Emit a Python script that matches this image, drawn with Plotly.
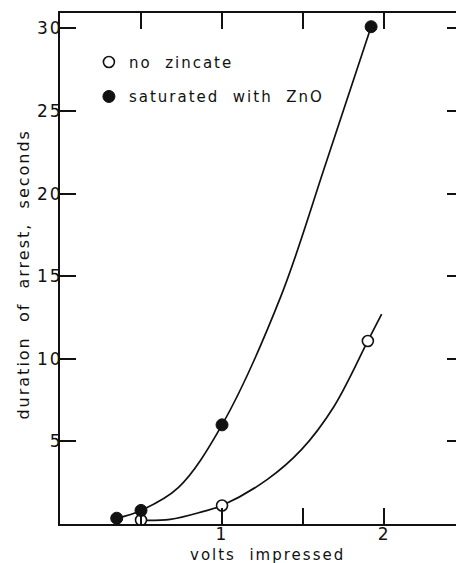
import plotly.graph_objects as go

# Measured points
no_zincate_v = [0.50, 1.00, 1.90]
no_zincate_s = [0.24, 1.12, 11.08]
zno_v = [0.35, 0.50, 1.00, 1.92]
zno_s = [0.35, 0.82, 6.0, 30.1]

# Hand-fitted curves through each set of points
no_zincate_curve_v = [0.50, 0.68, 0.88, 1.00, 1.28, 1.49, 1.69, 1.90, 1.985]
no_zincate_curve_s = [0.22, 0.28, 0.75, 1.12, 2.7, 4.5, 7.1, 11.08, 12.7]
zno_curve_v = [0.35, 0.50, 0.73, 1.00, 1.36, 1.64, 1.92]
zno_curve_s = [0.35, 0.82, 2.2, 6.0, 13.7, 21.8, 30.1]

# Axis ticks
x_ticks = [0.5, 1.0, 1.5, 2.0]
x_tick_text = ["", "1", "", "2"]
y_ticks = [5, 10, 15, 20, 25, 30]
y_tick_text = ["5", "10", "15", "20", "25", "30"]

legend_labels = ["no  zincate", "saturated  with  ZnO"]
x_title = "volts  impressed"
y_title = "duration  of  arrest,  seconds"

FONT = "DejaVu Sans"
INK = "#111"

fig = go.Figure()

fig.add_trace(go.Scatter(
    x=zno_curve_v, y=zno_curve_s, mode="lines",
    line=dict(color=INK, width=1.7, shape="spline", smoothing=1.0),
    showlegend=False, hoverinfo="skip"))
fig.add_trace(go.Scatter(
    x=no_zincate_curve_v, y=no_zincate_curve_s, mode="lines",
    line=dict(color=INK, width=1.7, shape="spline", smoothing=1.0),
    showlegend=False, hoverinfo="skip"))

fig.add_trace(go.Scatter(
    x=no_zincate_v, y=no_zincate_s, mode="markers", name=legend_labels[0],
    legendgroup="a",
    marker=dict(symbol="circle", size=11, color="white",
                line=dict(color=INK, width=1.6))))
fig.add_trace(go.Scatter(
    x=zno_v, y=zno_s, mode="markers", name=legend_labels[1],
    legendgroup="b",
    marker=dict(symbol="circle", size=12, color=INK,
                line=dict(color=INK, width=1))))

# right-hand tick marks (no axis line on that side)
fig.add_trace(go.Scatter(x=[None], y=[None], yaxis="y2", showlegend=False))

fig.update_layout(
    width=456, height=563,
    margin=dict(l=60, r=0, t=13, b=39),
    paper_bgcolor="white", plot_bgcolor="white",
    font=dict(family=FONT, size=15, color=INK),
    showlegend=True,
    legend=dict(x=0.073, y=0.936, xanchor="left", yanchor="top",
                bgcolor="rgba(0,0,0,0)", tracegroupgap=12,
                font=dict(size=15, color=INK)),
    xaxis=dict(range=[0, 2.444], tickvals=x_ticks, ticktext=x_tick_text,
               ticks="inside", ticklen=16, tickwidth=1.5, tickcolor=INK,
               showline=True, linewidth=2, linecolor=INK, mirror="ticks",
               showgrid=False, zeroline=False, ticklabelstandoff=-6,
               tickfont=dict(size=17, color=INK)),
    yaxis=dict(range=[0, 30.93], tickvals=y_ticks, ticktext=y_tick_text,
               ticks="inside", ticklen=16, tickwidth=1.5, tickcolor=INK,
               showline=True, linewidth=2, linecolor=INK,
               showgrid=False, zeroline=False, ticklabelstandoff=-8,
               tickfont=dict(size=17, color=INK)),
    yaxis2=dict(range=[0, 30.93], tickvals=y_ticks, overlaying="y", side="right",
                ticks="inside", ticklen=9, tickwidth=1.5, tickcolor=INK,
                showticklabels=False, showline=False, showgrid=False,
                zeroline=False),
    annotations=[
        dict(text=x_title, xref="paper", yref="paper", x=0.523, y=-0.0607,
             xanchor="center", yanchor="middle", showarrow=False,
             font=dict(size=15, color=INK)),
        dict(text=y_title, xref="paper", yref="paper", x=-0.091, y=0.490,
             xanchor="center", yanchor="middle", textangle=-90, showarrow=False,
             font=dict(size=16, color=INK)),
    ],
)

# widen the letter spacing of all texts; let the legend labels run past
# the width plotly measured for them
spacing_js = """
var gd = document.getElementById('{plot_id}');
if (gd) {
  gd.querySelectorAll('text').forEach(function(t){
    t.style.letterSpacing = '2.0px';
  });
  gd.querySelectorAll('.legend [clip-path], .legend .scrollbox').forEach(function(e){
    e.removeAttribute('clip-path');
  });
}
"""

fig.write_html("out.html", post_script=spacing_js)
